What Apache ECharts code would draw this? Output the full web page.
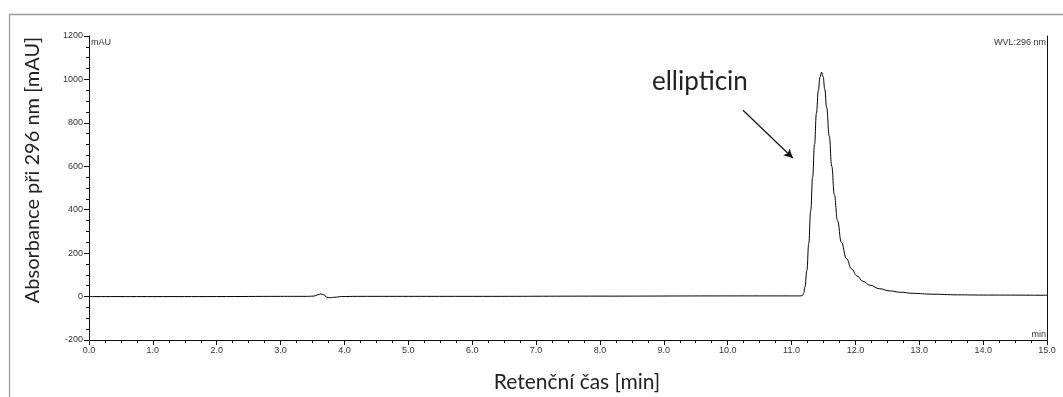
<!DOCTYPE html>
<html>
<head>
<meta charset="utf-8">
<script src="https://cdn.jsdelivr.net/npm/echarts@6/dist/echarts.min.js"></script>
<style>
  html, body { margin: 0; padding: 0; background: #fff; }
  #chart { width: 1063px; height: 397px; }
</style>
</head>
<body>
<div id="chart"></div>
<script>
// Chromatogram trace: retention time [min] and absorbance at 296 nm [mAU]
const times = [
  0.00, 1.00, 2.00, 3.00, 3.40, 3.52, 3.58, 3.63, 3.68, 3.72, 3.77, 3.85, 3.95, 4.20,
  6.00, 8.00, 10.00, 11.00, 11.12, 11.17, 11.19, 11.21, 11.24, 11.27, 11.30, 11.33,
  11.36, 11.39, 11.42, 11.445, 11.47, 11.495, 11.52, 11.55, 11.59, 11.63, 11.67, 11.72,
  11.78, 11.86, 11.94, 12.02, 12.12, 12.23, 12.38, 12.54, 12.70, 12.90, 13.20, 13.60,
  14.00, 15.00
];
const absorbance = [
  0, 0, 0, 1, 1, 2, 8, 12, 8, -3, -5, -3, 0, 1,
  1, 2, 3, 3, 3, 4, 15, 45, 120, 245, 395, 550,
  700, 845, 950, 1010, 1033, 1012, 955, 870, 740, 600, 470, 350,
  250, 175, 128, 96, 70, 52, 36, 26, 20, 15, 11, 8,
  7, 6
];
const yTicks = { min: -200, max: 1200, step: 200 };
const xTicks = { min: 0, max: 15, step: 1 };
const peakName = 'ellipticin';
// annotation arrow, start and end in data units (min, mAU)
const arrowFrom = [10.24, 858];
const arrowTo = [11.02, 638];

const chart = echarts.init(document.getElementById('chart'), null, { renderer: 'canvas' });

const tickFont = { fontFamily: 'Liberation Sans, Arial, sans-serif', fontSize: 9, color: '#333' };
const titleFont = 'Lato, "Noto Sans", sans-serif';

chart.setOption({
  animation: false,
  backgroundColor: '#fff',
  grid: { left: 89, right: 16, top: 36, bottom: 57 },
  xAxis: {
    type: 'value',
    min: xTicks.min, max: xTicks.max, interval: xTicks.step,
    axisLine: { onZero: false, lineStyle: { color: '#111', width: 1 } },
    axisTick: { show: true, length: 5, lineStyle: { color: '#111' } },
    minorTick: { show: true, splitNumber: 4, length: 3, lineStyle: { color: '#111' } },
    splitLine: { show: false },
    axisLabel: Object.assign({ margin: 6, formatter: v => v.toFixed(1) }, tickFont)
  },
  yAxis: [{
    type: 'value',
    min: yTicks.min, max: yTicks.max, interval: yTicks.step,
    axisLine: { show: true, lineStyle: { color: '#111', width: 1 } },
    axisTick: { show: true, length: 5, lineStyle: { color: '#111' } },
    minorTick: { show: true, splitNumber: 4, length: 3, lineStyle: { color: '#111' } },
    splitLine: { show: false },
    axisLabel: Object.assign({ margin: 6, formatter: v => String(v) }, tickFont)
  }, {
    type: 'value',
    position: 'right',
    min: yTicks.min, max: yTicks.max,
    axisLine: { show: true, lineStyle: { color: '#111', width: 1 } },
    axisTick: { show: false },
    axisLabel: { show: false },
    splitLine: { show: false }
  }],
  series: [{
    type: 'line',
    data: times.map((t, i) => [t, absorbance[i]]),
    showSymbol: false,
    smooth: 0.45,
    smoothMonotone: 'x',
    lineStyle: { color: '#000', width: 1 },
    silent: true,
    markLine: {
      silent: true,
      symbol: ['none', 'arrow'],
      symbolSize: [7, 9],
      label: { show: false },
      lineStyle: { color: '#111', width: 1.2, type: 'solid' },
      data: [[{ coord: arrowFrom }, { coord: arrowTo }]]
    }
  }],
  graphic: [
    { type: 'rect', silent: true, z: -1,
      shape: { x: 9.5, y: 14.5, width: 1200, height: 500 },
      style: { fill: 'none', stroke: '#9a9a9a', lineWidth: 1.3 } },
    { type: 'text', left: 91, top: 38,
      style: { text: 'mAU', font: '9px "Liberation Sans", Arial, sans-serif', fill: '#333' } },
    { type: 'text', right: 17, top: 38,
      style: { text: 'WVL:296 nm', font: '9px "Liberation Sans", Arial, sans-serif', fill: '#333' } },
    { type: 'text', right: 17, top: 330,
      style: { text: 'min', font: '9px "Liberation Sans", Arial, sans-serif', fill: '#333' } },
    { type: 'text', x: 33, y: 170, rotation: Math.PI / 2,
      style: { text: 'Absorbance při 296 nm [mAU]', font: '20px ' + titleFont, fill: '#222',
               align: 'center', verticalAlign: 'middle' } },
    { type: 'text', x: 577, y: 382,
      style: { text: 'Retenční čas [min]', font: '21px ' + titleFont, fill: '#222',
               align: 'center', verticalAlign: 'middle' } },
    { type: 'text', x: 652, y: 82,
      style: { text: peakName, font: '26px ' + titleFont, fill: '#222',
               align: 'left', verticalAlign: 'middle' } }
  ]
});
</script>
</body>
</html>
